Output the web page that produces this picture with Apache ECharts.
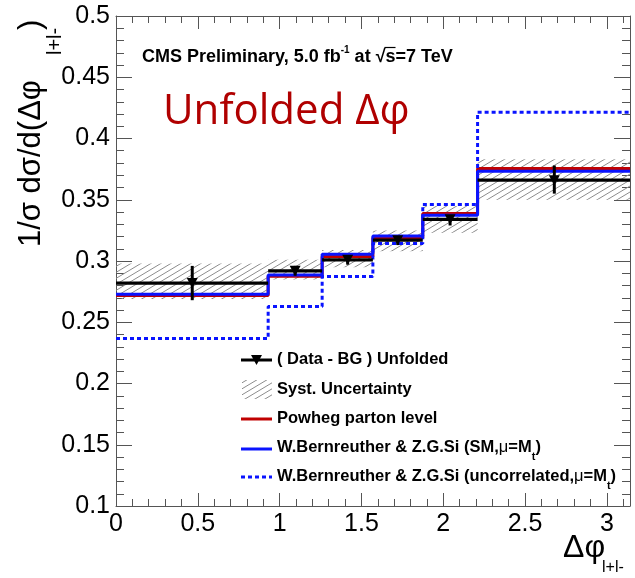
<!DOCTYPE html>
<html><head><meta charset="utf-8">
<script src="https://cdn.jsdelivr.net/npm/echarts@6/dist/echarts.min.js"></script>
<style>html,body{margin:0;padding:0;background:#fff}#c{width:635px;height:578px}</style>
</head><body><div id="c"></div>
<script>
// ---- data ----
const binEdges   = [0, 0.93, 1.26, 1.57, 1.875, 2.21, 3.1416];
const binCenters = [0.466, 1.095, 1.416, 1.722, 2.042, 2.679];
const dataValues = [0.282, 0.292, 0.301, 0.317, 0.334, 0.366];
const statLow    = [0.268, 0.288, 0.297, 0.313, 0.329, 0.355];
const statHigh   = [0.296, 0.296, 0.304, 0.320, 0.336, 0.378];
const systLow    = [0.269, 0.285, 0.295, 0.308, 0.323, 0.350];
const systHigh   = [0.298, 0.301, 0.309, 0.325, 0.345, 0.383];
const powheg     = [0.2718, 0.2875, 0.3036, 0.3190, 0.3387, 0.3756];
const smCorr     = [0.2728, 0.2885, 0.3055, 0.3204, 0.3373, 0.3732];
const uncorr     = [0.2367, 0.2628, 0.2873, 0.3142, 0.3462, 0.4215];
const xRange = [0, 3.1416];
const yRange = [0.1, 0.5];

const RED = '#c00000', BLUE = '#0a14ff', FRAME = '#555';
const FONT = '"Liberation Sans", Arial, sans-serif';

function makeHatch() {
  const c = document.createElement('canvas');
  c.width = 10; c.height = 6;
  const g = c.getContext('2d');
  g.strokeStyle = '#8c8c8c'; g.lineWidth = 1;
  for (const off of [-6, 0, 6]) {
    g.beginPath(); g.moveTo(0, 6 + off); g.lineTo(10, off); g.stroke();
  }
  return c;
}
const hatch = makeHatch();

function stepData(vals) {
  return binEdges.map((e, i) => [e, vals[Math.min(i, vals.length - 1)]]);
}

const systData = dataValues.map((_, i) => [binEdges[i], binEdges[i + 1], systLow[i], systHigh[i]]);
const measData = dataValues.map((v, i) => [binEdges[i], binEdges[i + 1], binCenters[i], v, statLow[i], statHigh[i]]);

function axisX(pos, interval, len, showLine, showLabel) {
  return {
    type: 'value', position: pos, min: xRange[0], max: xRange[1], interval: interval,
    axisLine: { show: showLine, onZero: false, lineStyle: { color: FRAME, width: 1 } },
    axisTick: { show: true, inside: true, length: len, lineStyle: { color: FRAME, width: 1 } },
    axisLabel: { show: showLabel, fontSize: 25, color: '#000', fontFamily: FONT, margin: 6, showMaxLabel: false },
    splitLine: { show: false }
  };
}
function axisY(pos, interval, len, showLine, showLabel) {
  return {
    type: 'value', position: pos, min: yRange[0], max: yRange[1], interval: interval,
    axisLine: { show: showLine, onZero: false, lineStyle: { color: FRAME, width: 1 } },
    axisTick: { show: true, inside: true, length: len, lineStyle: { color: FRAME, width: 1 } },
    axisLabel: { show: showLabel, fontSize: 25, color: '#000', fontFamily: FONT, margin: 6 },
    splitLine: { show: false }
  };
}

// text measurement helper (for placing the radical overline)
const mctx = document.createElement('canvas').getContext('2d');
function tw(font, s) { mctx.font = font; return mctx.measureText(s).width; }

const chart = echarts.init(document.getElementById('c'), null, { renderer: 'canvas' });

const txt = (x, y, text, font, fill, extra) => ({
  type: 'text', x: x, y: y, z: 100,
  style: Object.assign({ text: text, font: font, fill: fill, textAlign: 'left', textVerticalAlign: 'middle', align: 'left', verticalAlign: 'middle' }, extra || {})
});
const rtxt = (x, y, text, font) => ({
  type: 'text', x: x, y: y, rotation: Math.PI / 2, z: 100,
  style: { text: text, font: font, fill: '#000', align: 'left', verticalAlign: 'middle', textAlign: 'left', textVerticalAlign: 'middle' }
});

const CMS_X = 142, CMS_FONT = 'bold 18px ' + FONT, CMS_SUP = 'bold 10px ' + FONT;
const sqrtStart = CMS_X + tw(CMS_FONT, 'CMS Preliminary, 5.0 fb') + tw(CMS_SUP, '-1') + tw(CMS_FONT, ' at √');
const sW = tw(CMS_FONT, 's');

const LEG_FONT = 'bold 16.5px ' + FONT;
const legendX0 = 241, legendX1 = 272, legendTX = 277;
const richLeg = {
  b: { font: LEG_FONT, fill: '#000', lineHeight: 30 },
  m: { font: '16.5px ' + FONT, fill: '#000', lineHeight: 30 },
  s: { font: 'bold 11px ' + FONT, fill: '#000', verticalAlign: 'bottom', lineHeight: 14 }
};
const graphics = [
  // y-axis title
  rtxt(31, 247, '1/σ dσ/d(Δφ', '31px ' + FONT),
  rtxt(55, 55, 'l+l-', '20px ' + FONT),
  rtxt(31, 30, ')', '31px ' + FONT),
  // x-axis title
  txt(563, 548, 'Δφ', '32px ' + FONT, '#000'),
  txt(602, 568, 'l+l-', '16px ' + FONT, '#000'),
  // CMS label
  txt(CMS_X, 57, '{b|CMS Preliminary, 5.0 fb}{sup|-1}{b| at √s=7 TeV}', CMS_FONT, '#000', {
    rich: {
      b: { font: CMS_FONT, fill: '#000', lineHeight: 24 },
      sup: { font: CMS_SUP, fill: '#000', verticalAlign: 'top', lineHeight: 24 }
    }
  }),
  { type: 'line', z: 100, shape: { x1: sqrtStart - 1, y1: 47.5, x2: sqrtStart + sW, y2: 47.5 }, style: { stroke: '#000', lineWidth: 1.2 } },
  // Unfolded
  txt(163, 112, 'Unfolded Δφ', '42px "Open Sans", ' + FONT, '#b00000'),
  // legend: data
  { type: 'line', z: 100, shape: { x1: legendX0, y1: 360, x2: legendX1, y2: 360 }, style: { stroke: '#000', lineWidth: 3 } },
  { type: 'polygon', z: 100, shape: { points: [[251, 355], [262, 355], [256.5, 365]] }, style: { fill: '#000' } },
  txt(legendTX, 359, '( Data - BG ) Unfolded', LEG_FONT, '#000'),
  // legend: syst
  { type: 'rect', z: 100, shape: { x: 242, y: 380, width: 30, height: 19 }, style: { fill: { image: hatch, repeat: 'repeat' } } },
  txt(legendTX, 389, 'Syst. Uncertainty', LEG_FONT, '#000'),
  // legend: powheg
  { type: 'line', z: 100, shape: { x1: legendX0, y1: 419, x2: legendX1, y2: 419 }, style: { stroke: RED, lineWidth: 3 } },
  txt(legendTX, 418, 'Powheg parton level', LEG_FONT, '#000'),
  // legend: SM
  { type: 'line', z: 100, shape: { x1: legendX0, y1: 449, x2: legendX1, y2: 449 }, style: { stroke: BLUE, lineWidth: 3 } },
  txt(legendTX, 447, '{b|W.Bernreuther & Z.G.Si (SM,}{m|μ}{b|=M}{s|t}{b|)}', LEG_FONT, '#000', { rich: richLeg }),
  // legend: uncorrelated
  { type: 'line', z: 100, shape: { x1: legendX0, y1: 477, x2: legendX1, y2: 477 }, style: { stroke: BLUE, lineWidth: 3, lineDash: [4, 3] } },
  txt(legendTX, 476, '{b|W.Bernreuther & Z.G.Si (uncorrelated,}{m|μ}{b|=M}{s|t}{b|)}', LEG_FONT, '#000', { rich: richLeg })
];

const option = {
  animation: false,
  backgroundColor: '#fff',
  grid: { left: 116, right: 5, top: 16, bottom: 72, containLabel: false },
  xAxis: [
    axisX('bottom', 0.5, 13, true, true),
    axisX('bottom', 0.1, 7, false, false),
    axisX('top', 0.5, 13, true, false),
    axisX('top', 0.1, 7, false, false)
  ],
  yAxis: [
    axisY('left', 0.05, 16, true, true),
    axisY('left', 0.01, 8, false, false),
    axisY('right', 0.05, 16, true, false),
    axisY('right', 0.01, 8, false, false)
  ],
  graphic: graphics,
  series: [
    {
      name: 'Syst. Uncertainty', type: 'custom', xAxisIndex: 0, yAxisIndex: 0, z: 1,
      data: systData, encode: { x: [0, 1], y: [2, 3] },
      renderItem: function (params, api) {
        const p1 = api.coord([api.value(0), api.value(3)]);
        const p2 = api.coord([api.value(1), api.value(2)]);
        return { type: 'rect', shape: { x: p1[0], y: p1[1], width: p2[0] - p1[0], height: p2[1] - p1[1] },
          style: { fill: { image: hatch, repeat: 'repeat' } } };
      }
    },
    { name: 'Powheg parton level', type: 'line', step: 'end', data: stepData(powheg), symbol: 'none', z: 2,
      lineStyle: { color: RED, width: 3 } },
    { name: 'W.Bernreuther & Z.G.Si (SM)', type: 'line', step: 'end', data: stepData(smCorr), symbol: 'none', z: 3,
      lineStyle: { color: BLUE, width: 3 } },
    { name: 'W.Bernreuther & Z.G.Si (uncorrelated)', type: 'line', step: 'end', data: stepData(uncorr), symbol: 'none', z: 3,
      lineStyle: { color: BLUE, width: 3, type: [4, 3] } },
    {
      name: '( Data - BG ) Unfolded', type: 'custom', xAxisIndex: 0, yAxisIndex: 0, z: 5,
      data: measData, encode: { x: [0, 1, 2], y: [3, 4, 5] },
      renderItem: function (params, api) {
        const a = api.coord([api.value(0), api.value(3)]);
        const b = api.coord([api.value(1), api.value(3)]);
        const c = api.coord([api.value(2), api.value(3)]);
        const lo = api.coord([api.value(2), api.value(4)]);
        const hi = api.coord([api.value(2), api.value(5)]);
        return { type: 'group', children: [
          { type: 'line', shape: { x1: a[0], y1: a[1], x2: b[0], y2: b[1] }, style: { stroke: '#000', lineWidth: 3.2 } },
          { type: 'line', shape: { x1: c[0], y1: hi[1], x2: c[0], y2: lo[1] }, style: { stroke: '#000', lineWidth: 3 } },
          { type: 'polygon', shape: { points: [[c[0] - 5.5, c[1] - 5], [c[0] + 5.5, c[1] - 5], [c[0], c[1] + 5]] }, style: { fill: '#000' } }
        ] };
      }
    }
  ]
};
chart.setOption(option);
</script>
</body></html>
